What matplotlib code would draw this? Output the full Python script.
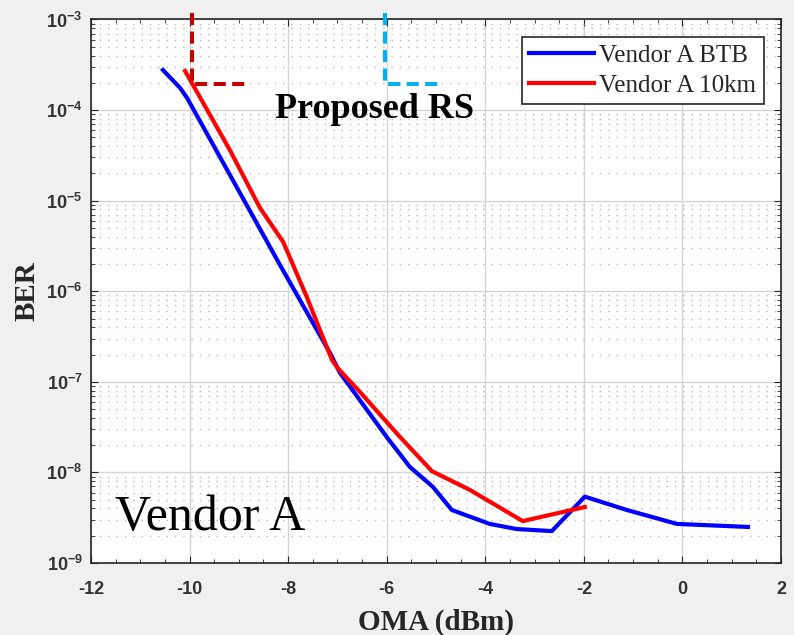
import math

import matplotlib

matplotlib.use("Agg")
import matplotlib.pyplot as plt
from matplotlib.ticker import FixedLocator, FuncFormatter, LogLocator, NullFormatter

plt.rcParams["mathtext.fontset"] = "custom"
plt.rcParams["mathtext.rm"] = "Liberation Sans:bold"
plt.rcParams["mathtext.bf"] = "Liberation Sans:bold"
plt.rcParams["mathtext.it"] = "Liberation Sans:bold"

# Vendor A, back-to-back
btb_oma = [-10.54, -10.19, -10.05, -9.18, -8.17, -7.15, -6.95, -6.0, -5.53, -5.06,
           -4.68, -3.91, -3.36, -2.65, -1.98, -1.13, -0.11, 1.33]
btb_ber = [2.77e-4, 1.75e-4, 1.36e-4, 1.92e-5, 1.97e-6, 2.08e-7, 1.26e-7, 2.46e-8, 1.15e-8,
           6.9e-9, 3.85e-9, 2.7e-9, 2.37e-9, 2.25e-9, 5.4e-9, 3.85e-9, 2.7e-9, 2.5e-9]

# Vendor A, 10 km
km10_oma = [-10.09, -9.18, -8.57, -8.10, -7.62, -7.11, -6.99, -6.54, -5.73, -5.08,
            -4.31, -3.24, -1.98]
km10_ber = [2.7e-4, 3.6e-5, 8.3e-6, 3.5e-6, 8.6e-7, 1.74e-7, 1.41e-7, 7.7e-8, 2.46e-8,
            1.03e-8, 6.4e-9, 2.9e-9, 4.15e-9]

# "Proposed RS" corner markers
rs_red_x = [-9.945, -9.945, -8.81]
rs_red_y = [10 ** -2.93, 1.93e-4, 1.93e-4]
rs_cyan_x = [-6.035, -6.035, -4.92]
rs_cyan_y = [10 ** -2.93, 1.93e-4, 1.93e-4]

x_ticks = [-12, -10, -8, -6, -4, -2, 0, 2]
y_ticks = [1e-9, 1e-8, 1e-7, 1e-6, 1e-5, 1e-4, 1e-3]

fig = plt.figure(figsize=(7.94, 6.35), dpi=100, facecolor="#f0f0f0")
ax = fig.add_axes([0.1146, 0.1134, 0.8690, 0.8559])
ax.set_facecolor("white")

ax.plot(btb_oma, btb_ber, color="#0000ff", linewidth=3, label="Vendor A BTB", zorder=3)
ax.plot(km10_oma, km10_ber, color="#ff0000", linewidth=3, label="Vendor A 10km", zorder=3)

ax.plot(rs_red_x, rs_red_y, color="#c00000", linewidth=2.9, linestyle=(0, (3.0, 1.6)),
        clip_on=False, zorder=4)
ax.plot(rs_cyan_x, rs_cyan_y, color="#00b0f0", linewidth=2.9, linestyle=(0, (3.0, 1.6)),
        clip_on=False, zorder=4)

ax.set_yscale("log")
ax.set_xlim(-12, 2)
ax.set_ylim(1e-9, 1e-3)

ax.xaxis.set_major_locator(FixedLocator(x_ticks))
ax.xaxis.set_minor_locator(FixedLocator([v / 2 for v in range(-24, 5)]))
ax.yaxis.set_major_locator(FixedLocator(y_ticks))
ax.yaxis.set_minor_locator(LogLocator(base=10, subs=range(2, 10), numticks=20))
ax.yaxis.set_minor_formatter(NullFormatter())
ax.yaxis.set_major_formatter(FuncFormatter(lambda v, p: r"$10^{%d}$" % round(math.log10(v))))
ax.xaxis.set_major_formatter(FuncFormatter(lambda v, p: "%d" % v))

ax.tick_params(axis="both", which="both", direction="in", top=True, right=True,
               colors="#262626", labelcolor="#333333")
ax.tick_params(axis="x", which="major", labelsize=13, length=5, pad=13)
ax.tick_params(axis="y", which="major", labelsize=13, length=5, pad=6)
ax.tick_params(axis="both", which="minor", length=3)
for lbl in ax.get_xticklabels():
    lbl.set_fontfamily("Liberation Sans")
    lbl.set_fontweight("bold")

ax.grid(True, which="major", color="#d4d4d4", linewidth=1.0, linestyle="-")
ax.grid(True, which="minor", axis="y", color="#b8b8b8", linewidth=1.0, linestyle=(0, (1, 5)))
ax.set_axisbelow(True)
for spine in ax.spines.values():
    spine.set_color("#262626")
    spine.set_linewidth(1.2)

ax.set_xlabel("OMA (dBm)", fontfamily="Liberation Serif", fontweight="bold", fontsize=21,
              color="#262626", labelpad=8)
ax.set_ylabel("BER", fontfamily="Liberation Serif", fontweight="bold", fontsize=21,
              color="#262626", labelpad=4)

ax.text(-8.27, 10 ** -4.087, "Proposed RS", fontfamily="Liberation Serif", fontweight="bold",
        fontsize=26, color="black", va="baseline", ha="left", zorder=5)
ax.text(-11.51, 10 ** -8.636, "Vendor A", fontfamily="Liberation Serif", fontsize=36,
        color="black", va="baseline", ha="left", zorder=5)

leg = ax.legend(loc="upper right", bbox_to_anchor=(0.975, 0.968), borderaxespad=0,
                prop={"family": "Liberation Serif", "size": 18}, fancybox=False,
                framealpha=1, edgecolor="#262626", handlelength=2.6, handletextpad=0.2,
                labelspacing=0.3, borderpad=0.3)
leg.get_frame().set_linewidth(1.2)
for t in leg.get_texts():
    t.set_color("#262626")

fig.savefig("out.png", dpi=100, facecolor=fig.get_facecolor())
